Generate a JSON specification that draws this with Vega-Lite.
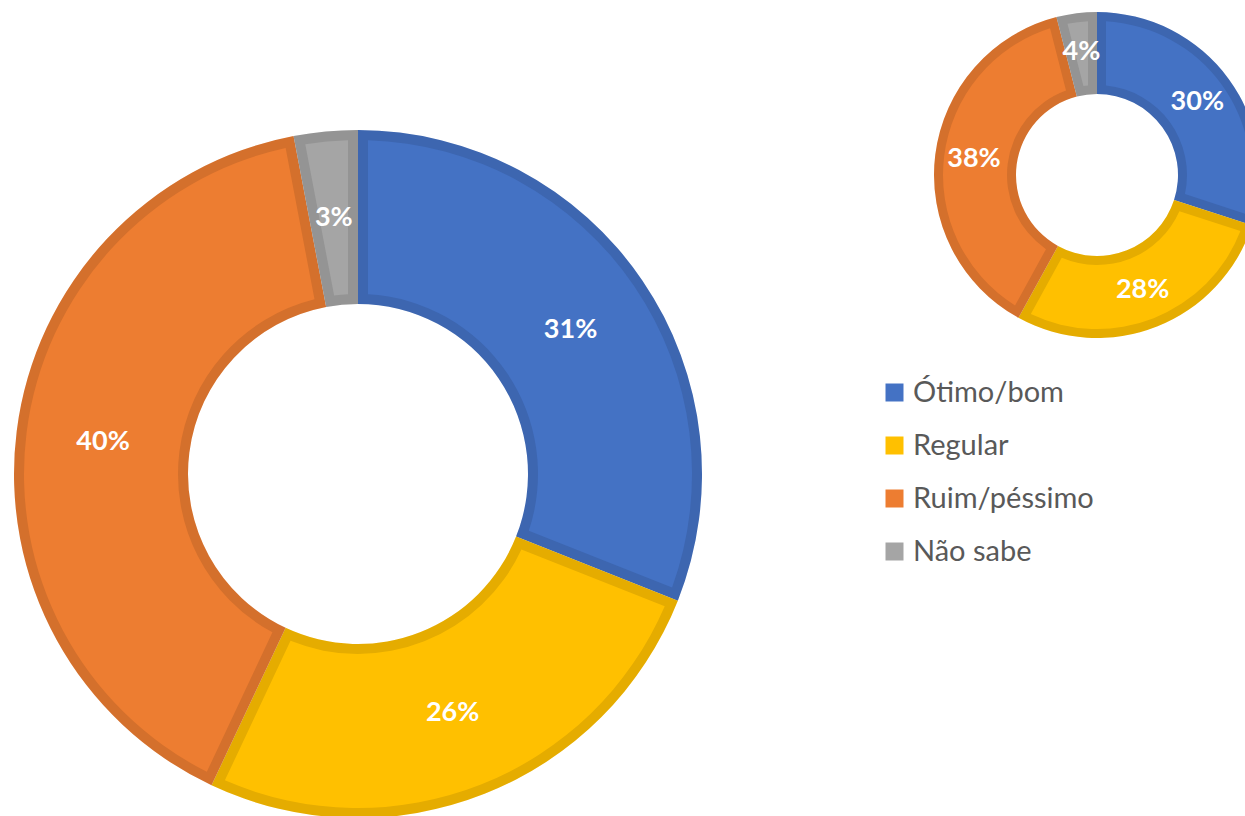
{
  "$schema": "https://vega.github.io/schema/vega-lite/v6.json",
  "padding": 0,
  "spacing": 218,
  "config": {
    "view": {"stroke": null},
    "font": "Lato"
  },
  "datasets": {
    "atual": [
      {"avaliacao": "Ótimo/bom", "ordem": 1, "pct": 0.31},
      {"avaliacao": "Regular", "ordem": 2, "pct": 0.26},
      {"avaliacao": "Ruim/péssimo", "ordem": 3, "pct": 0.40},
      {"avaliacao": "Não sabe", "ordem": 4, "pct": 0.03}
    ],
    "anterior": [
      {"avaliacao": "Ótimo/bom", "ordem": 1, "pct": 0.30},
      {"avaliacao": "Regular", "ordem": 2, "pct": 0.28},
      {"avaliacao": "Ruim/péssimo", "ordem": 3, "pct": 0.38},
      {"avaliacao": "Não sabe", "ordem": 4, "pct": 0.04}
    ]
  },
  "hconcat": [
    {
      "spacing": 0,
      "vconcat": [
        {
          "width": 716,
          "height": 130,
          "data": {"values": []},
          "mark": {"type": "text"},
          "encoding": {}
        },
        {
          "width": 716,
          "height": 688,
          "data": {"name": "atual"},
          "encoding": {
            "theta": {"field": "pct", "type": "quantitative", "stack": true},
            "order": {"field": "ordem", "type": "quantitative"}
          },
          "layer": [
            {
              "mark": {"type": "arc", "outerRadius": 344, "innerRadius": 170},
              "encoding": {
                "color": {
                  "field": "avaliacao",
                  "type": "nominal",
                  "scale": {
                    "domain": ["Ótimo/bom", "Regular", "Ruim/péssimo", "Não sabe"],
                    "range": ["#4472C4", "#FFC000", "#ED7D31", "#A5A5A5"]
                  },
                  "legend": {
                    "title": null,
                    "orient": "none",
                    "legendX": 880,
                    "legendY": 378,
                    "direction": "vertical",
                    "padding": 0,
                    "symbolType": "square",
                    "symbolSize": 324,
                    "symbolStrokeWidth": 0,
                    "symbolOpacity": 1,
                    "labelFont": "Lato",
                    "labelFontSize": 29,
                    "labelColor": "#595959",
                    "labelOffset": 4,
                    "rowPadding": 23,
                    "labelLimit": 400
                  }
                }
              }
            },
            {
              "mark": {"type": "arc", "outerRadius": 344, "innerRadius": 170, "fill": "#000000", "fillOpacity": 0.1},
              "encoding": {"detail": {"field": "avaliacao", "type": "nominal"}}
            },
            {
              "mark": {"type": "arc", "outerRadius": 334, "innerRadius": 180, "padAngle": 0.0527},
              "encoding": {
                "color": {"field": "avaliacao", "type": "nominal"}
              }
            },
            {
              "mark": {"type": "text", "radius": 257, "fontSize": 27, "fontWeight": "bold", "font": "Lato", "fill": "#FFFFFF", "align": "center", "baseline": "middle"},
              "encoding": {
                "text": {"field": "pct", "type": "quantitative", "format": ".0%"}
              }
            }
          ]
        }
      ]
    },
    {
      "spacing": 0,
      "vconcat": [
        {
          "width": 326,
          "height": 350,
          "data": {"name": "anterior"},
          "encoding": {
            "theta": {"field": "pct", "type": "quantitative", "stack": true},
            "order": {"field": "ordem", "type": "quantitative"}
          },
          "layer": [
            {
              "mark": {"type": "arc", "outerRadius": 163, "innerRadius": 81},
              "encoding": {
                "color": {"field": "avaliacao", "type": "nominal"}
              }
            },
            {
              "mark": {"type": "arc", "outerRadius": 163, "innerRadius": 81, "fill": "#000000", "fillOpacity": 0.1},
              "encoding": {"detail": {"field": "avaliacao", "type": "nominal"}}
            },
            {
              "mark": {"type": "arc", "outerRadius": 154, "innerRadius": 90, "padAngle": 0.1009},
              "encoding": {
                "color": {"field": "avaliacao", "type": "nominal"}
              }
            },
            {
              "mark": {"type": "text", "radius": 124, "fontSize": 27, "fontWeight": "bold", "font": "Lato", "fill": "#FFFFFF", "align": "center", "baseline": "middle"},
              "encoding": {
                "text": {"field": "pct", "type": "quantitative", "format": ".0%"}
              }
            }
          ]
        }
      ]
    }
  ]
}
